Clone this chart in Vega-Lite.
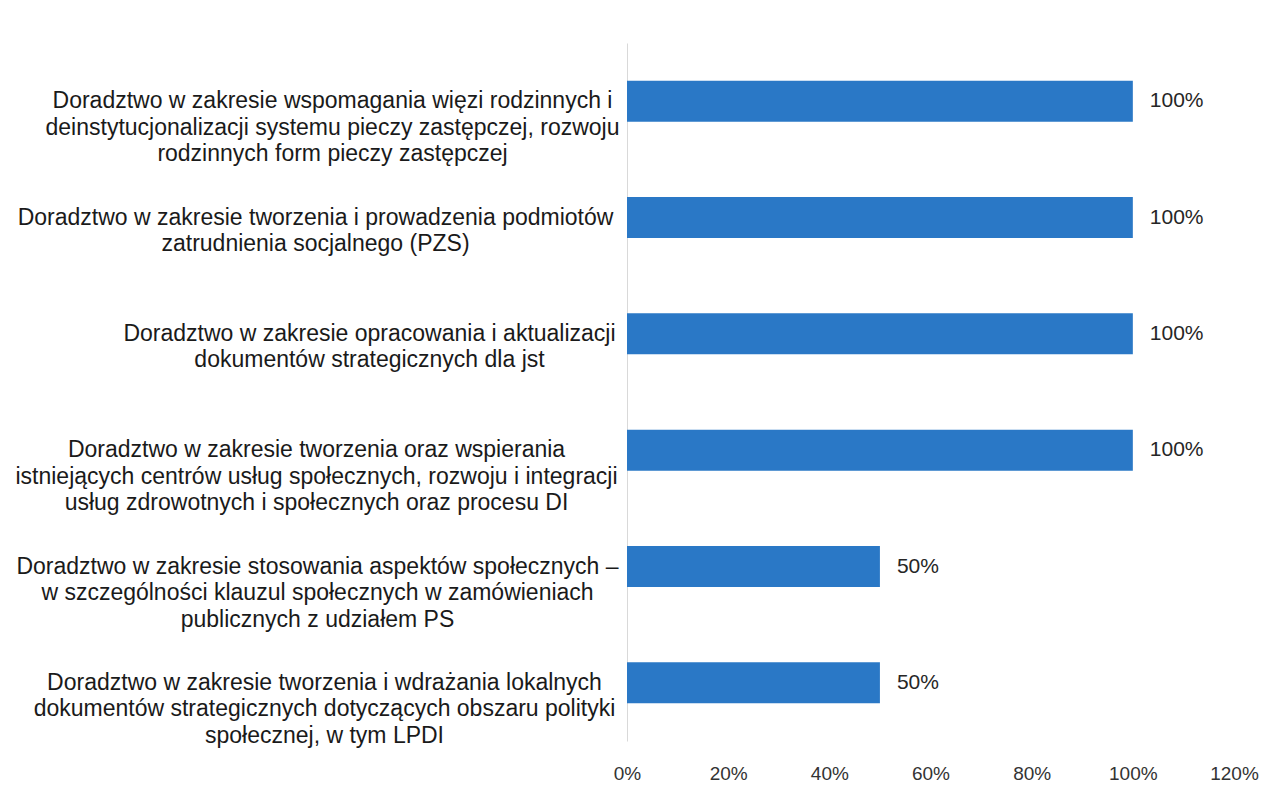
{
  "$schema": "https://vega.github.io/schema/vega-lite/v6.json",
  "width": 607,
  "height": 698,
  "autosize": "none",
  "padding": {"left": 627, "top": 43, "right": 46, "bottom": 57},
  "background": "white",
  "config": {"view": {"stroke": null}, "font": "Liberation Sans"},
  "data": {
    "values": [
      {"label": "Doradztwo w zakresie wspomagania więzi rodzinnych i|deinstytucjonalizacji systemu pieczy zastępczej, rozwoju|rodzinnych form pieczy zastępczej", "value": 1.0},
      {"label": "Doradztwo w zakresie tworzenia i prowadzenia podmiotów|zatrudnienia socjalnego (PZS)", "value": 1.0},
      {"label": "Doradztwo w zakresie opracowania i aktualizacji|dokumentów strategicznych dla jst", "value": 1.0},
      {"label": "Doradztwo w zakresie tworzenia oraz wspierania|istniejących centrów usług społecznych, rozwoju i integracji|usług zdrowotnych i społecznych oraz procesu DI", "value": 1.0},
      {"label": "Doradztwo w zakresie stosowania aspektów społecznych –|w szczególności klauzul społecznych w zamówieniach|publicznych z udziałem PS", "value": 0.5},
      {"label": "Doradztwo w zakresie tworzenia i wdrażania lokalnych|dokumentów strategicznych dotyczących obszaru polityki|społecznej, w tym LPDI", "value": 0.5}
    ]
  },
  "encoding": {
    "y": {
      "field": "label",
      "type": "nominal",
      "sort": null,
      "scale": {"paddingInner": 0.647, "paddingOuter": 0.3235},
      "axis": {
        "title": null,
        "ticks": false,
        "domainColor": "#d9d9d9",
        "domainWidth": 1,
        "labelExpr": "split(datum.value, '|')",
        "labelAlign": "center",
        "labelBaseline": "middle",
        "labelPadding": {"expr": "indexof(datum.value, 'opracowania') >= 0 ? 258 : indexof(datum.value, 'rodzinnych form') >= 0 ? 295 : indexof(datum.value, 'istniejących') >= 0 ? 311 : indexof(datum.value, 'prowadzenia') >= 0 ? 312 : indexof(datum.value, 'stosowania') >= 0 ? 310 : 303"},
        "labelFontSize": 23,
        "labelLineHeight": 26.5,
        "labelColor": "#1a1a1a",
        "labelLimit": 0,
        "labelFont": "Liberation Sans"
      }
    },
    "x": {
      "field": "value",
      "type": "quantitative",
      "scale": {"domain": [0, 1.2], "nice": false},
      "axis": {
        "title": null,
        "format": ".0%",
        "values": [0, 0.2, 0.4, 0.6, 0.8, 1.0, 1.2],
        "grid": false,
        "domain": false,
        "ticks": false,
        "labelPadding": 23,
        "labelFontSize": 19,
        "labelColor": "#333333",
        "labelFlush": false,
        "labelOverlap": false
      }
    }
  },
  "layer": [
    {"mark": {"type": "bar", "color": "#2a78c6"}},
    {
      "mark": {"type": "text", "align": "left", "baseline": "middle", "dx": 17, "fontSize": 21, "color": "#262626"},
      "encoding": {"text": {"field": "value", "type": "quantitative", "format": ".0%"}}
    }
  ]
}
